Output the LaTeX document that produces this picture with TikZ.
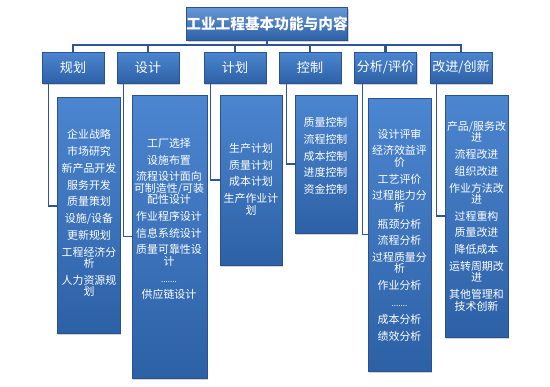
\documentclass[tikz,border=0pt]{standalone}
\usepackage{fontspec}
\newfontfamily\cjk{Noto Sans CJK SC}
\usetikzlibrary{shadows,calc}
\definecolor{boxtop}{HTML}{4C86D0}
\definecolor{boxbot}{HTML}{2D61A6}
\definecolor{boxedge}{HTML}{2A5290}
\definecolor{conn}{HTML}{2F5597}
\tikzset{
  blue box/.style={rectangle, draw=boxedge, line width=0.5pt, top color=boxtop, bottom color=boxbot,
    drop shadow={opacity=0.35, shadow xshift=1pt, shadow yshift=-1.5pt}, inner sep=0pt},
  titlebox/.style={blue box, top color=boxtop!85!white, text=white, font=\cjk\bfseries\fontsize{11}{12}\selectfont},
  topbox/.style={blue box, minimum width=46.5pt, minimum height=23.25pt, text=white, font=\cjk\fontsize{9.8}{11}\selectfont},
  childbox/.style={blue box},
  childtxt/.style={inner sep=0pt, text=white, align=center, font=\cjk\fontsize{8.2}{8.5}\selectfont},
  link/.style={draw=conn, line width=0.8pt},
  buslink/.style={draw=conn, line width=1.6pt}
}
\newcommand{\gp}{\\[4.1pt]}
\begin{document}
\begin{tikzpicture}[x=0.75pt,y=-0.75pt]
\useasboundingbox (0,0) rectangle (550,386);
% title
\node[titlebox, minimum width=115.5pt, minimum height=24.75pt] (title) at (267,23.5) {工业工程基本功能与内容};
% top level
\node[topbox] (p1) at (73,67.5) {规划};
\node[topbox] (p2) at (148,67.5) {设计};
\node[topbox] (p3) at (235,67.5) {计划};
\node[topbox] (p4) at (310,67.5) {控制};
\node[topbox] (p5) at (385.5,67.5) {分析/评价};
\node[topbox] (p6) at (461,67.5) {改进/创新};
% child boxes
\node[childbox, minimum width=47.25pt, minimum height=177pt] (c1) at (88.5,215) {};
\node[childbox, minimum width=56.25pt, minimum height=212.25pt] (c2) at (169.5,236.5) {};
\node[childbox, minimum width=46.5pt, minimum height=127.5pt] (c3) at (251,180) {};
\node[childbox, minimum width=46.5pt, minimum height=103.5pt] (c4) at (326,164) {};
\node[childbox, minimum width=47.25pt, minimum height=204.75pt] (c5) at (399.5,234.5) {};
\node[childbox, minimum width=47.25pt, minimum height=181.5pt] (c6) at (476.5,216) {};
% child texts
\node[childtxt] (t1) at (89,213) {企业战略\gp 市场研究\gp 新产品开发\gp 服务开发\gp 质量策划\gp 设施/设备\gp 更新规划\gp 工程经济分\\析\gp 人力资源规\\划};
\node[childtxt] (t2) at (169,219) {工厂选择\gp 设施布置\gp 流程设计面向\\可制造性/可装\\配性设计\gp 作业程序设计\gp 信息系统设计\gp 质量可靠性设\\计\gp {\fontsize{6}{6}\selectfont .......}\gp 供应链设计};
\node[childtxt] (t3) at (251,179) {生产计划\gp 质量计划\gp 成本计划\gp 生产作业计\\划};
\node[childtxt] (t4) at (325.5,156) {质量控制\gp 流程控制\gp 成本控制\gp 进度控制\gp 资金控制};
\node[childtxt] (t5) at (399.5,235) {设计评审\gp 经济效益评\\价\gp 工艺评价\gp 过程能力分\\析\gp 瓶颈分析\gp 流程分析\gp 过程质量分\\析\gp 作业分析\gp {\fontsize{6}{6}\selectfont .......}\gp 成本分析\gp 绩效分析};
\node[childtxt] (t6) at (476.5,216) {产品/服务改\\进\gp 流程改进\gp 组织改进\gp 作业方法改\\进\gp 过程重构\gp 质量改进\gp 降低成本\gp 运转周期改\\进\gp 其他管理和\\技术创新};
% bus
\coordinate (bus) at (267,45);
\draw[buslink] (title.south) -- (bus);
\draw[buslink] (p1.north) -- (p1.north |- bus) -- (p6.north |- bus) -- (p6.north);
\foreach \p in {p2,p3,p4,p5} \draw[buslink] (\p.north) -- (\p.north |- bus);
% drops
\draw[link] ($(p1.south west)+(7,0)$) |- ($(c1.west)+(0,-9)$);
\draw[link] ($(p2.south west)+(7,0)$) |- (c2.west);
\draw[link] ($(p3.south west)+(7,0)$) |- (c3.west);
\draw[link] ($(p4.south west)+(8,0)$) |- (c4.west);
\draw[link] ($(p5.south west)+(8,0)$) |- (c5.west);
\draw[link] ($(p6.south west)+(7,0)$) |- (c6.west);
\end{tikzpicture}
\end{document}
